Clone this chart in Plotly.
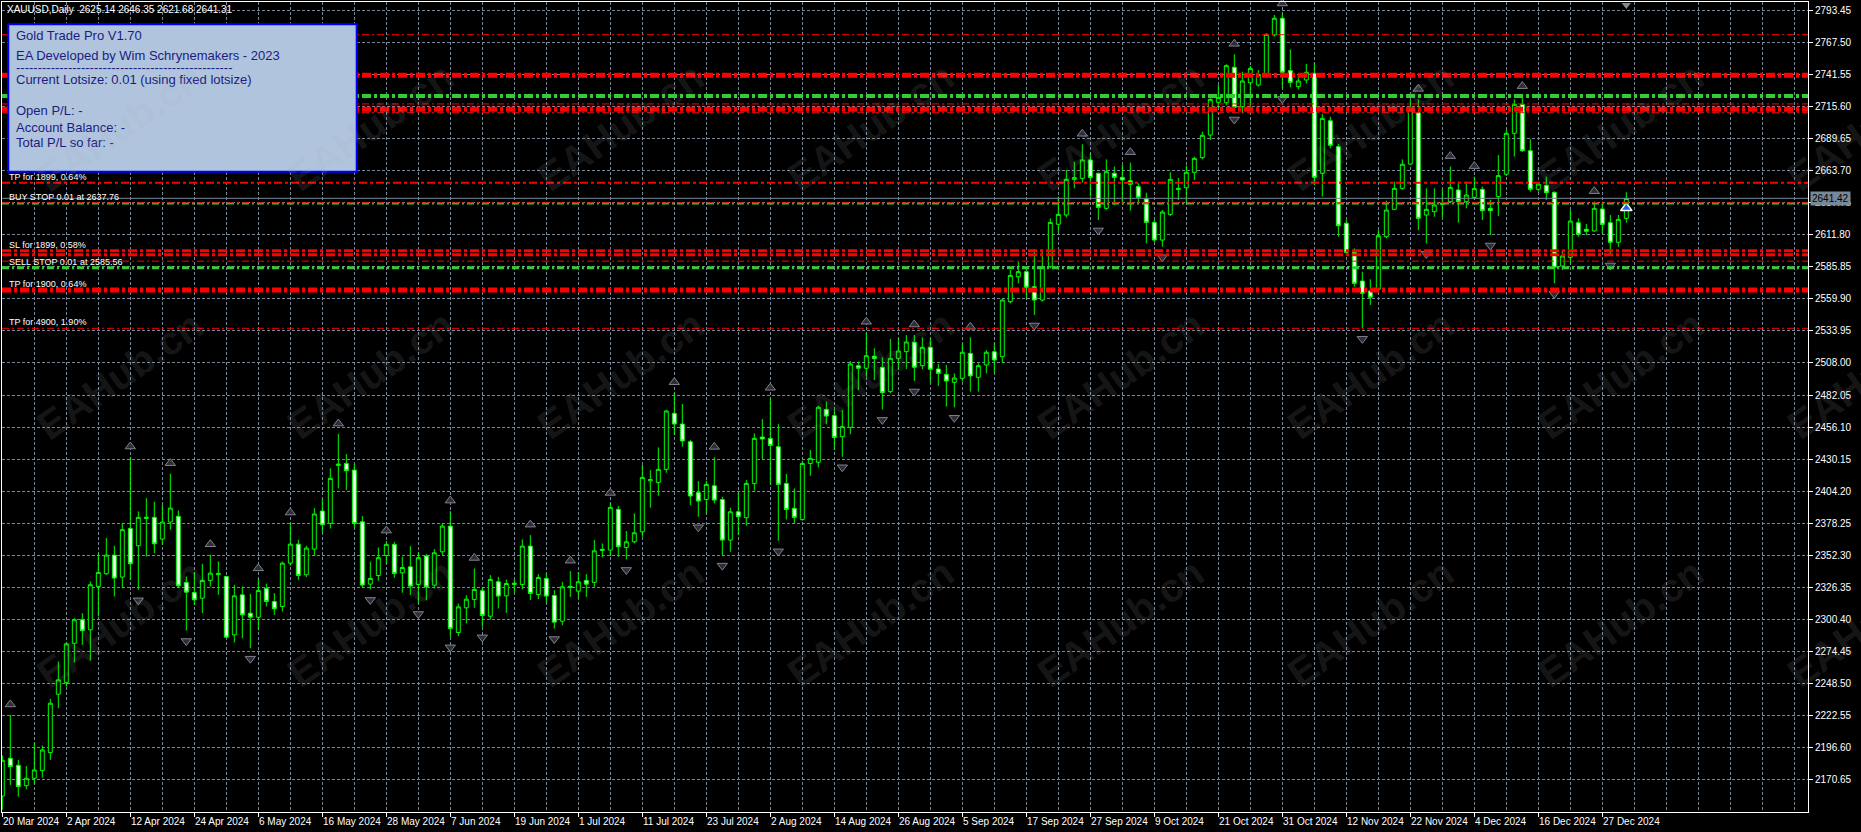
import plotly.graph_objects as go

# ---------------- data ----------------
title_text = "XAUUSD,Daily  2625.14 2646.35 2621.68 2641.31"

opens = [2157.0, 2187.7, 2182.0, 2165.5, 2171.5, 2177.7, 2192.3, 2239.6, 2249.0, 2280.9,
         2299.9, 2291.8, 2326.9, 2337.2, 2352.3, 2334.5, 2373.9, 2359.9, 2382.0, 2382.9,
         2365.3, 2379.1, 2383.7, 2330.1, 2322.0, 2317.4, 2331.8, 2336.5, 2335.0, 2287.7,
         2320.1, 2305.3, 2302.0, 2325.3, 2314.7, 2310.7, 2345.8, 2361.2, 2336.4, 2357.2,
         2388.0, 2378.0, 2425.0, 2426.6, 2421.2, 2379.3, 2328.8, 2335.8, 2352.0, 2361.0,
         2338.0, 2342.8, 2328.5, 2351.5, 2328.0, 2355.0, 2375.8, 2289.6, 2309.6, 2316.4,
         2323.4, 2302.8, 2330.7, 2319.3, 2328.5, 2328.5, 2359.6, 2320.4, 2333.4, 2319.6,
         2298.8, 2326.0, 2323.1, 2331.8, 2330.2, 2356.0, 2356.4, 2389.4, 2358.5, 2363.1,
         2371.2, 2412.5, 2411.2, 2421.8, 2467.2, 2458.5, 2444.2, 2403.1, 2397.4, 2408.5,
         2397.4, 2364.5, 2387.4, 2382.6, 2410.4, 2448.0, 2446.9, 2440.2, 2410.4, 2390.2,
         2381.2, 2426.6, 2427.5, 2470.4, 2465.3, 2448.3, 2455.8, 2505.8, 2503.7, 2513.5,
         2504.5, 2484.8, 2511.8, 2517.2, 2524.8, 2505.8, 2520.7, 2503.1, 2498.8, 2492.3,
         2495.6, 2515.8, 2496.4, 2506.4, 2517.1, 2513.1, 2557.7, 2577.9, 2582.0, 2569.8,
         2559.0, 2586.0, 2620.4, 2627.9, 2656.8, 2657.6, 2672.5, 2661.7, 2633.3, 2661.7,
         2658.4, 2655.7, 2650.9, 2640.9, 2621.9, 2607.6, 2628.4, 2648.5, 2650.0, 2662.5,
         2674.4, 2692.7, 2719.2, 2718.9, 2747.6, 2715.7, 2735.1, 2733.2, 2740.5, 2773.8,
         2787.3, 2744.9, 2731.9, 2737.3, 2742.7, 2661.7, 2704.3, 2683.3, 2621.2, 2597.7,
         2574.4, 2566.3, 2567.7, 2610.3, 2632.5, 2649.5, 2669.2, 2710.8, 2627.9, 2630.6,
         2636.5, 2638.7, 2648.2, 2638.7, 2642.2, 2648.7, 2633.3, 2642.8, 2660.9, 2694.1,
         2717.6, 2680.0, 2648.7, 2651.9, 2646.3, 2586.6, 2593.6, 2621.7, 2616.3, 2615.0,
         2632.8, 2621.7, 2605.8, 2625.14]
highs = [2190.0, 2222.8, 2186.3, 2181.5, 2200.4, 2198.0, 2235.8, 2266.1, 2281.5, 2301.2,
         2305.3, 2331.0, 2353.9, 2366.1, 2359.9, 2378.3, 2431.8, 2387.7, 2398.5, 2395.6,
         2393.1, 2418.3, 2388.5, 2335.0, 2338.3, 2345.3, 2352.6, 2347.2, 2335.5, 2328.3,
         2326.9, 2320.9, 2333.1, 2329.1, 2321.5, 2347.2, 2378.3, 2364.7, 2359.9, 2390.4,
         2397.7, 2422.6, 2450.4, 2434.2, 2426.1, 2383.9, 2346.9, 2358.5, 2363.7, 2363.1,
         2351.0, 2359.6, 2354.5, 2353.1, 2357.2, 2378.0, 2388.0, 2313.1, 2319.9, 2341.5,
         2326.6, 2336.1, 2334.7, 2332.6, 2332.6, 2365.0, 2368.5, 2336.9, 2337.5, 2323.9,
         2330.7, 2339.3, 2338.3, 2336.9, 2364.5, 2361.8, 2394.2, 2392.0, 2371.8, 2386.1,
         2425.3, 2421.2, 2439.6, 2469.9, 2483.9, 2474.8, 2445.6, 2412.3, 2412.6, 2431.5,
         2399.6, 2390.7, 2402.9, 2413.1, 2451.0, 2462.6, 2479.4, 2458.5, 2418.0, 2406.4,
         2428.8, 2437.5, 2473.4, 2476.6, 2470.4, 2469.9, 2509.6, 2509.1, 2532.9, 2519.9,
         2512.6, 2527.5, 2528.0, 2530.7, 2530.7, 2528.8, 2528.0, 2507.2, 2506.4, 2499.6,
         2523.4, 2528.8, 2507.7, 2518.5, 2524.0, 2560.0, 2583.3, 2590.1, 2586.0, 2600.1,
         2600.0, 2625.2, 2642.8, 2664.4, 2671.1, 2685.2, 2677.9, 2662.2, 2673.0, 2667.1,
         2668.4, 2670.3, 2653.6, 2646.0, 2623.8, 2631.9, 2662.5, 2658.0, 2667.9, 2675.2,
         2695.4, 2722.4, 2733.2, 2750.0, 2758.1, 2744.0, 2748.6, 2745.4, 2775.1, 2790.0,
         2790.8, 2762.1, 2741.3, 2750.3, 2751.3, 2709.7, 2707.6, 2685.4, 2623.8, 2600.9,
         2582.0, 2575.8, 2615.7, 2639.5, 2654.9, 2673.0, 2721.1, 2721.6, 2649.5, 2649.5,
         2649.0, 2667.1, 2654.9, 2654.9, 2659.0, 2650.9, 2640.1, 2676.5, 2696.8, 2721.6,
         2723.8, 2689.2, 2654.1, 2659.0, 2647.0, 2599.5, 2631.9, 2625.2, 2620.6, 2638.7,
         2638.7, 2627.9, 2627.9, 2646.35]
lows = [2146.0, 2166.1, 2156.6, 2162.5, 2166.6, 2172.0, 2186.3, 2228.2, 2245.8, 2265.3,
        2279.6, 2266.9, 2302.6, 2336.4, 2318.8, 2325.5, 2332.3, 2324.2, 2351.2, 2353.9,
        2360.7, 2372.9, 2325.6, 2291.2, 2312.0, 2305.3, 2326.9, 2320.1, 2285.0, 2281.5,
        2285.0, 2276.9, 2291.8, 2310.7, 2303.9, 2306.6, 2343.7, 2332.3, 2334.5, 2351.8,
        2370.7, 2373.9, 2406.4, 2405.0, 2374.7, 2326.1, 2324.5, 2331.5, 2345.0, 2333.9,
        2321.8, 2319.9, 2313.1, 2315.8, 2325.3, 2352.3, 2286.1, 2286.6, 2296.9, 2309.6,
        2294.2, 2300.1, 2309.0, 2305.5, 2321.8, 2324.5, 2315.8, 2316.6, 2313.6, 2292.8,
        2295.5, 2318.5, 2317.2, 2318.5, 2326.6, 2350.4, 2351.5, 2351.0, 2348.8, 2361.8,
        2367.2, 2390.7, 2400.4, 2419.1, 2449.6, 2440.2, 2392.9, 2383.4, 2386.1, 2394.2,
        2352.3, 2355.0, 2368.5, 2376.1, 2404.5, 2429.9, 2409.6, 2363.9, 2381.2, 2378.0,
        2380.2, 2416.6, 2423.4, 2458.3, 2437.5, 2432.0, 2450.2, 2486.1, 2496.9, 2494.2,
        2470.4, 2483.4, 2502.9, 2503.1, 2493.4, 2502.9, 2492.1, 2489.4, 2472.6, 2472.1,
        2492.9, 2484.8, 2484.8, 2499.6, 2500.0, 2508.0, 2556.3, 2572.5, 2560.4, 2546.9,
        2557.7, 2584.7, 2613.9, 2626.0, 2649.5, 2654.1, 2642.8, 2623.9, 2631.9, 2636.0,
        2636.8, 2631.4, 2636.8, 2604.9, 2605.8, 2602.2, 2627.1, 2640.0, 2637.4, 2656.3,
        2673.0, 2688.7, 2714.3, 2717.0, 2713.8, 2710.3, 2715.1, 2731.9, 2739.5, 2772.4,
        2730.5, 2731.3, 2729.7, 2734.6, 2652.2, 2642.8, 2681.9, 2610.3, 2595.5, 2569.8,
        2536.1, 2555.0, 2567.1, 2609.0, 2631.9, 2648.2, 2668.4, 2615.7, 2604.9, 2626.5,
        2626.0, 2637.4, 2621.7, 2633.3, 2640.1, 2623.8, 2611.7, 2627.1, 2659.5, 2675.2,
        2679.0, 2646.8, 2646.8, 2640.1, 2572.5, 2583.3, 2588.7, 2610.3, 2611.7, 2614.4,
        2613.0, 2595.5, 2602.2, 2621.68]
closes = [2186.0, 2180.9, 2164.7, 2171.5, 2178.2, 2194.4, 2232.3, 2251.2, 2280.4, 2299.9,
          2291.0, 2328.3, 2338.3, 2352.3, 2333.7, 2372.9, 2345.3, 2382.9, 2383.0, 2361.5,
          2379.1, 2390.4, 2327.4, 2322.3, 2316.1, 2331.8, 2337.7, 2337.5, 2285.8, 2319.3,
          2303.9, 2302.0, 2323.7, 2314.7, 2308.8, 2345.8, 2361.2, 2335.8, 2358.0, 2385.6,
          2376.9, 2414.5, 2426.0, 2420.7, 2378.0, 2328.0, 2333.4, 2350.2, 2361.0, 2337.4,
          2342.3, 2327.2, 2350.2, 2326.6, 2354.2, 2375.8, 2292.8, 2310.4, 2316.6, 2324.5,
          2303.4, 2332.6, 2319.1, 2329.3, 2329.5, 2359.6, 2321.2, 2334.2, 2319.1, 2298.0,
          2326.6, 2327.0, 2330.7, 2328.8, 2355.8, 2357.0, 2391.0, 2359.1, 2363.1, 2370.4,
          2415.3, 2413.5, 2421.8, 2469.1, 2458.5, 2444.8, 2400.2, 2396.1, 2409.6, 2396.9,
          2364.5, 2387.4, 2383.4, 2410.4, 2446.9, 2446.4, 2441.2, 2409.6, 2389.3, 2382.9,
          2426.6, 2430.7, 2472.1, 2465.0, 2447.7, 2456.4, 2507.2, 2503.7, 2513.9, 2511.5,
          2483.9, 2511.8, 2517.7, 2525.0, 2504.5, 2520.7, 2502.9, 2499.6, 2493.4, 2495.8,
          2516.7, 2497.5, 2505.8, 2516.7, 2510.4, 2559.0, 2579.0, 2582.0, 2569.3, 2559.0,
          2586.0, 2621.9, 2628.4, 2656.8, 2658.2, 2672.5, 2658.2, 2634.1, 2663.0, 2658.4,
          2656.3, 2652.8, 2642.2, 2621.9, 2607.6, 2630.3, 2656.8, 2649.5, 2662.5, 2673.8,
          2692.5, 2721.6, 2723.2, 2748.9, 2715.1, 2736.5, 2746.7, 2741.9, 2774.3, 2787.3,
          2743.5, 2735.4, 2736.5, 2743.5, 2658.4, 2706.2, 2684.4, 2619.2, 2597.7, 2572.5,
          2564.4, 2561.2, 2611.1, 2631.9, 2649.5, 2669.0, 2714.3, 2625.2, 2632.5, 2636.0,
          2637.5, 2650.3, 2638.7, 2644.1, 2649.3, 2631.4, 2631.4, 2659.8, 2694.1, 2717.6,
          2680.0, 2648.7, 2653.0, 2646.0, 2585.5, 2594.7, 2623.0, 2612.2, 2614.7, 2633.3,
          2620.3, 2605.8, 2624.4, 2641.31]

# date labels, one every 8 bars starting at bar 0
date_labels = ["20 Mar 2024", "2 Apr 2024", "12 Apr 2024", "24 Apr 2024", "6 May 2024",
               "16 May 2024", "28 May 2024", "7 Jun 2024", "19 Jun 2024", "1 Jul 2024",
               "11 Jul 2024", "23 Jul 2024", "2 Aug 2024", "14 Aug 2024", "26 Aug 2024",
               "5 Sep 2024", "17 Sep 2024", "27 Sep 2024", "9 Oct 2024", "21 Oct 2024",
               "31 Oct 2024", "12 Nov 2024", "22 Nov 2024", "4 Dec 2024", "16 Dec 2024",
               "27 Dec 2024"]
price_ticks = [2170.65, 2196.60, 2222.55, 2248.50, 2274.45, 2300.40, 2326.35, 2352.30,
               2378.25, 2404.20, 2430.15, 2456.10, 2482.05, 2508.00, 2533.95, 2559.90,
               2585.85, 2611.80, 2637.75, 2663.70, 2689.65, 2715.60, 2741.55, 2767.50,
               2793.45]

# fractal bars
up_fractals = [1, 16, 21, 26, 32, 36, 42, 48, 56, 59, 66, 71, 76, 84, 89, 96, 108, 114,
               121, 135, 141, 154, 160, 177, 181, 184, 190, 199]
down_fractals = [17, 23, 31, 46, 52, 56, 60, 69, 78, 87, 90, 97, 105, 110, 114, 119, 129,
                 137, 145, 154, 160, 170, 178, 186, 194, 201]

bid_price = 2641.42
buy_arrow_price = 2633.5

# EA horizontal levels
level_prices = [2774.0, 2741.1, 2724.3, 2717.9, 2713.5, 2710.8, 2654.1, 2637.2, 2637.8,
                2598.9, 2595.6, 2590.5, 2585.2, 2567.1, 2536.1]
level_kinds = ["red_thin", "red_thick", "green_thick", "red_thin", "red_thick", "red_thin",
               "red_mid", "green_thin", "red_thin", "red_thick3", "red_thick3", "red_thin",
               "green_mid", "red_thick", "red_thin"]

line_labels = ["TP for 1899, 0.64%", "BUY STOP 0.01 at 2637.76", "SL for 1899, 0.58%",
               "SELL STOP 0.01 at 2585.56", "TP for 1900, 0.64%", "TP for 4900, 1.90%"]
line_label_prices = [2654.1, 2637.8, 2598.9, 2585.2, 2567.1, 2536.1]

info_lines = ["Gold Trade Pro V1.70",
              "EA Developed by Wim Schrynemakers - 2023",
              "-" * 50,
              "Current Lotsize: 0.01 (using fixed lotsize)",
              "Open P/L: -",
              "Account Balance: -",
              "Total P/L so far: -"]
watermark = "EAHub.cn"

# ---------------- geometry / style ----------------
W, H = 1861, 832
PL, PR, PT, PB = 2, 1808, 2, 812
BAR_PX = 8.0
BAR0_PX = 2.3
X0 = (PL - BAR0_PX) / BAR_PX
X1 = X0 + (PR - PL) / BAR_PX
PX_PER_PRICE = 768.6 / 622.8
Y1 = 2793.45 + (10.7 - PT) / PX_PER_PRICE
Y0 = 2793.45 - (PB - 10.7) / PX_PER_PRICE

FONT = "Liberation Sans"
GRID = "#778899"
GREEN = "#00FF00"
RED = "#FF0000"
LGREEN = "#32CD32"


def px_x(px):
    return (px - PL) / (PR - PL)


def px_y(py):
    return (PB - py) / (PB - PT)


n = len(opens)
xs = list(range(n))

fig = go.Figure()
fig.add_trace(go.Candlestick(
    x=xs, open=opens, high=highs, low=lows, close=closes,
    increasing=dict(line=dict(color=GREEN, width=1), fillcolor="#000000"),
    decreasing=dict(line=dict(color=GREEN, width=1), fillcolor="#FFFFFF"),
    whiskerwidth=0, hoverinfo="skip", showlegend=False))

# fractal arrows
fig.add_trace(go.Scatter(
    x=up_fractals, y=[highs[i] + 8.5 for i in up_fractals], mode="markers",
    marker=dict(symbol="triangle-up", size=9, color="#2e2e38",
                line=dict(color="#80808e", width=1)),
    hoverinfo="skip", showlegend=False, cliponaxis=False))
fig.add_trace(go.Scatter(
    x=down_fractals, y=[lows[i] - 8.5 for i in down_fractals], mode="markers",
    marker=dict(symbol="triangle-down", size=9, color="#2e2e38",
                line=dict(color="#80808e", width=1)),
    hoverinfo="skip", showlegend=False, cliponaxis=False))
# buy arrow on last bar
fig.add_trace(go.Scatter(
    x=[n - 1], y=[buy_arrow_price], mode="markers",
    marker=dict(symbol="triangle-up", size=10, color="#1E64F0",
                line=dict(color="#FFFFFF", width=1.5)),
    hoverinfo="skip", showlegend=False))
# chart-shift marker at top
fig.add_trace(go.Scatter(
    x=[n - 1], y=[Y1 - 2.5], mode="markers",
    marker=dict(symbol="triangle-down", size=8, color="#8a8a8a"),
    hoverinfo="skip", showlegend=False, cliponaxis=False))

styles = {
    "red_thin": (RED, 1, "7px,3px,2px,3px"),
    "red_mid": (RED, 2, "8px,3px,3px,3px"),
    "red_thick": (RED, 5, "9px,3px,3px,3px"),
    "red_thick3": (RED, 3, "9px,3px,3px,3px"),
    "green_thick": (LGREEN, 4, "9px,3px,3px,3px"),
    "green_mid": (LGREEN, 3, "7px,3px,2px,3px"),
    "green_thin": (LGREEN, 2, "7px,3px,2px,3px"),
}
shapes = []
for p, kind in zip(level_prices, level_kinds):
    c, w, d = styles[kind]
    shapes.append(dict(type="line", xref="paper", yref="y", x0=0, x1=1, y0=p, y1=p,
                       line=dict(color=c, width=w, dash=d), layer="above"))
shapes.append(dict(type="line", xref="paper", yref="y", x0=0, x1=1, y0=bid_price,
                   y1=bid_price, line=dict(color=GRID, width=1), layer="above"))
# info panel
shapes.append(dict(type="rect", xref="paper", yref="paper",
                   x0=px_x(8.3), x1=px_x(356.7), y0=px_y(171.7), y1=px_y(24.3),
                   fillcolor="#B0C4DE", line=dict(color="#0000FF", width=2), layer="above"))

annotations = []
# title
annotations.append(dict(xref="paper", yref="paper", x=px_x(5), y=px_y(10), text=title_text,
                        showarrow=False, xanchor="left", yanchor="middle",
                        font=dict(color="white", size=10, family=FONT)))
# price axis labels
for v in price_ticks:
    annotations.append(dict(xref="paper", yref="y", x=1, xshift=5, y=v,
                            text="%.2f" % v, showarrow=False, xanchor="left",
                            yanchor="middle",
                            font=dict(color="white", size=10, family=FONT)))
# date labels
for i, lab in enumerate(date_labels):
    annotations.append(dict(xref="x", yref="paper", x=8 * i, y=px_y(821), text=lab,
                            showarrow=False, xanchor="left", yanchor="middle", xshift=-1,
                            font=dict(color="white", size=10, family=FONT)))
# level labels
for lab, p in zip(line_labels, line_label_prices):
    annotations.append(dict(xref="paper", yref="y", x=px_x(7), y=p, yshift=6, text=lab,
                            showarrow=False, xanchor="left", yanchor="middle",
                            font=dict(color="white", size=9, family=FONT)))
# bid label
annotations.append(dict(xref="paper", yref="y", x=1, xshift=2, y=bid_price,
                        text="2641.42", showarrow=False, xanchor="left", yanchor="middle",
                        bgcolor=GRID, borderpad=1,
                        font=dict(color="black", size=10, family=FONT)))
# info panel text
info_y = [35, 55, 67, 79, 111, 127, 143]
for t, yy in zip(info_lines, info_y):
    annotations.append(dict(xref="paper", yref="paper", x=px_x(13.5), y=px_y(yy), text=t,
                            showarrow=False, xanchor="left", yanchor="middle",
                            font=dict(color="#1C1C80", size=13, family=FONT)))
# watermarks
for cy in [127, 375, 623]:
    for cx in [120 + 250 * i for i in range(8)]:
        annotations.append(dict(xref="paper", yref="paper", x=px_x(cx), y=px_y(cy),
                                text=watermark, showarrow=False, textangle=-35,
                                xanchor="center", yanchor="middle",
                                font=dict(color="rgba(175,175,175,0.15)", size=40,
                                          family=FONT, weight="bold")))

fig.update_layout(
    width=W, height=H,
    margin=dict(l=PL, r=W - PR, t=PT, b=H - PB, pad=0),
    paper_bgcolor="#000000", plot_bgcolor="#000000",
    showlegend=False, boxgap=0.3,
    shapes=shapes, annotations=annotations,
    xaxis=dict(range=[X0, X1], rangeslider=dict(visible=False), automargin=False,
               tickmode="array", tickvals=[8 * i for i in range(len(date_labels))],
               showticklabels=False, ticks="outside", ticklen=4, tickcolor="white",
               showgrid=True, gridcolor=GRID, griddash="3px,2px", gridwidth=1,
               minor=dict(tickmode="array", tickvals=list(range(0, 228, 4)), showgrid=True,
                          gridcolor=GRID, griddash="3px,2px", ticks=""),
               showline=True, linecolor="white", linewidth=1, mirror=True,
               zeroline=False, fixedrange=True),
    yaxis=dict(range=[Y0, Y1], side="right", automargin=False, tickmode="array",
               tickvals=price_ticks, showticklabels=False,
               ticks="outside", ticklen=4, tickcolor="white",
               showgrid=True, gridcolor=GRID, griddash="3px,2px", gridwidth=1,
               showline=True, linecolor="white", linewidth=1, mirror=True,
               zeroline=False, fixedrange=True),
)

fig.write_html("out.html",
               config={"displayModeBar": False},
               post_script="document.body.style.margin='0';"
                           "document.body.style.padding='0';"
                           "document.body.style.overflow='hidden';")
